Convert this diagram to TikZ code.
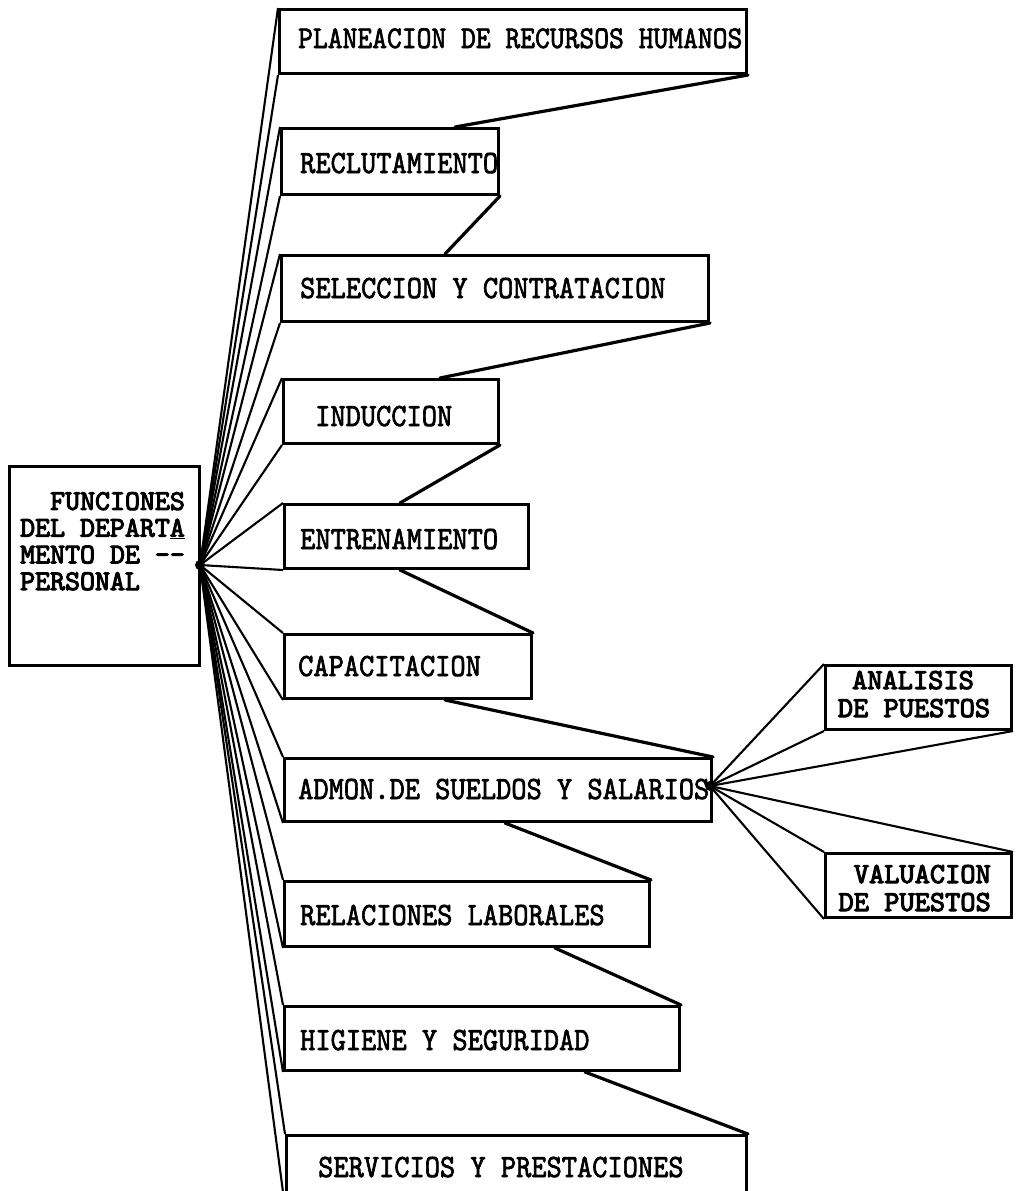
\documentclass[tikz,border=0pt]{standalone}
\usepackage{fontspec}
\newfontfamily\tw{lmmono10-regular}[Extension=.otf, FakeBold=2.2]
\newfontfamily\twb{lmmono10-regular}[Extension=.otf, FakeBold=3.6]
\newcommand\tallt[1]{\scalebox{1}[1.12]{#1}}
\usetikzlibrary{calc}
\begin{document}
\begin{tikzpicture}[x=1pt,y=-1pt]
\tikzset{
  box/.style={draw, line width=3pt, anchor=north west, inner sep=0pt},
  lbl/.style={anchor=base west, inner sep=0pt, font=\tw\fontsize{29}{30}\selectfont},
  blbl/.style={inner sep=0pt, font=\twb\fontsize{28.5}{26.7}\selectfont},
  slbl/.style={inner sep=0pt, font=\twb\fontsize{29}{28}\selectfont},
  fan/.style={line width=2.1pt},
  link/.style={line width=3.2pt, line cap=round},
}
\useasboundingbox (0,0) rectangle (1016,1191);
\clip (0,0) rectangle (1016,1191);
\fill[white] (0,0) rectangle (1016,1191);

% main box
\node[box, minimum width=190, minimum height=199] (L) at (8,465) {};
\node[blbl, anchor=base west, align=left] (Lt) at (20,590)
  {\hspace*{30pt}FUNCIONES\\DEL DEPART\underline{A}\\MENTO DE -{}-\\PERSONAL};
\coordinate (H) at (200,565);

% function boxes
\node[box, minimum width=467, minimum height=64] (b1) at (278,8) {};
\node[lbl, font=\tw\fontsize{28.2}{30}\selectfont] (t1) at (298,48) {\tallt{PLANEACION DE RECURSOS HUMANOS}};
\node[box, minimum width=217, minimum height=66] (b2) at (280,127) {};
\node[lbl] (t2) at (300,173) {\tallt{RECLUTAMIENTO}};
\node[box, minimum width=427, minimum height=66] (b3) at (280,254) {};
\node[lbl] (t3) at (300,298) {\tallt{SELECCION Y CONTRATACION}};
\node[box, minimum width=215, minimum height=64] (b4) at (282,378) {};
\node[lbl] (t4) at (315,426) {\tallt{INDUCCION}};
\node[box, minimum width=244, minimum height=64] (b5) at (283,503) {};
\node[lbl] (t5) at (300,549) {\tallt{ENTRENAMIENTO}};
\node[box, minimum width=247, minimum height=64] (b6) at (283,633) {};
\node[lbl] (t6) at (298,676) {\tallt{CAPACITACION}};
\node[box, minimum width=427, minimum height=63] (b7) at (283,757) {};
\node[lbl] (t7) at (298,799) {\tallt{ADMON.DE SUELDOS Y SALARIOS}};
\node[box, minimum width=365, minimum height=65] (b8) at (283,880) {};
\node[lbl] (t8) at (300,925) {\tallt{RELACIONES LABORALES}};
\node[box, minimum width=395, minimum height=64] (b9) at (283,1005) {};
\node[lbl] (t9) at (300,1050) {\tallt{HIGIENE Y SEGURIDAD}};
\node[box, minimum width=460, minimum height=70] (b10) at (285,1134) {};
\node[lbl] (t10) at (318,1177) {\tallt{SERVICIOS Y PRESTACIONES}};

% sub boxes
\node[box, minimum width=186, minimum height=64] (A) at (824,664) {};
\node[slbl, anchor=base] (At1) at (913,689) {ANALISIS};
\node[slbl, anchor=base] (At2) at (914,717) {DE PUESTOS};
\node[box, minimum width=186, minimum height=64] (V) at (824,852) {};
\node[slbl, anchor=base east] (Vt1) at (991,883) {VALUACION};
\node[slbl, anchor=base east] (Vt2) at (991,911) {DE PUESTOS};
\coordinate (H2) at (710,786);

% fan lines from main hub
\foreach \b in {b1,b2,b3,b4,b5,b6,b7,b8,b9,b10}{
  \draw[fan] (H) -- (\b.north west);
  \draw[fan] (H) -- (\b.south west);
}
\fill (H) circle (5);

% fan lines from second hub
\draw[fan] (H2) -- (A.north west);
\draw[fan] (H2) -- (A.south west);
\draw[fan] (H2) -- (A.south east);
\draw[fan] (H2) -- (V.north east);
\draw[fan] (H2) -- (V.north west);
\draw[fan] (H2) -- (V.south west);
\fill (H2) circle (5);

% links between boxes
\draw[link] (b1.south east) -- ([xshift=175]b2.north west);
\draw[link] (b2.south east) -- ([xshift=165]b3.north west);
\draw[link] (b3.south east) -- ([xshift=158]b4.north west);
\draw[link] (b4.south east) -- ([xshift=117]b5.north west);
\draw[link] ([xshift=117]b5.south west) -- (b6.north east);
\draw[link] ([xshift=162]b6.south west) -- (b7.north east);
\draw[link] ([xshift=222]b7.south west) -- (b8.north east);
\draw[link] ([xshift=272]b8.south west) -- (b9.north east);
\draw[link] ([xshift=302]b9.south west) -- (b10.north east);
\end{tikzpicture}
\end{document}
